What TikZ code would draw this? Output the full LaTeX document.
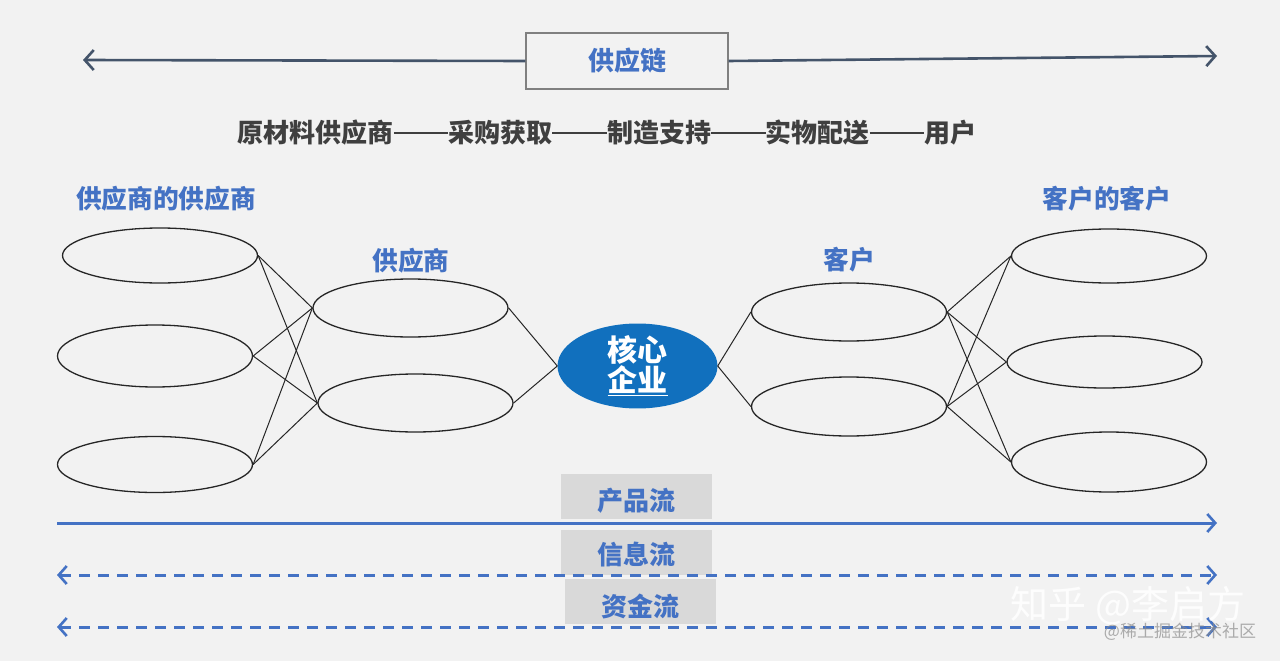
\documentclass[tikz,border=0pt]{standalone}
\usepackage{fontspec}
\setmainfont{Noto Sans CJK SC}
\usetikzlibrary{arrows.meta,shapes.geometric}
\definecolor{bg}{HTML}{F2F2F2}
\definecolor{blu}{HTML}{4472C4}
\definecolor{core}{HTML}{1170BE}
\definecolor{slate}{HTML}{44546A}
\definecolor{txt}{HTML}{3F3F3F}
\definecolor{boxg}{HTML}{D9D9D9}
\newcommand\mydash{\rule[0.33em]{2.1em}{0.085em}}
\tikzset{
  flowtip/.tip={Straight Barb[length=8pt,width=18pt,line width=2.6pt]},
  chaintip/.tip={Straight Barb[length=9pt,width=20pt,line width=2.6pt]}
}
\begin{document}
\begin{tikzpicture}[x=1pt,y=-1pt,
  oval/.style={ellipse,draw=black!85,line width=1.3pt,minimum width=195pt,inner sep=0pt},
  link/.style={draw=black!85,line width=1pt},
  lbl/.style={text=blu,font=\bfseries\fontsize{25.7}{28}\selectfont,inner sep=0pt},
  flowbox/.style={fill=boxg,minimum width=151pt,minimum height=45pt,inner sep=0pt},
  flowtxt/.style={text=blu,font=\bfseries\fontsize{26}{28}\selectfont,inner sep=0pt},
  flow/.style={draw=blu,line width=3pt}
]
\useasboundingbox[fill=bg] (0,0) rectangle (1280,661);

% supply chain arrow
\node[draw=black!50,line width=1.2pt,minimum width=202pt,minimum height=56pt,inner sep=0pt,
  text=blu,font=\bfseries\fontsize{26}{28}\selectfont] (chain) at (627,61) {供应链};
\coordinate (L) at (83,60);
\coordinate (R) at (1217,56);
\draw[slate,line width=2.6pt,-{chaintip}] (chain.west) -- (L);
\draw[slate,line width=2.6pt,-{chaintip}] (chain.east) -- (R);

\node[text=txt,font=\bfseries\fontsize{26}{28}\selectfont,inner sep=0pt] (stages) at (607,133)
  {原材料供应商\mydash 采购获取\mydash 制造支持\mydash 实物配送\mydash 用户};

% labels
\node[lbl] (lss) at (166,199) {供应商的供应商};
\node[lbl] (ls) at (411,261) {供应商};
\node[lbl] (lc) at (849,260) {客户};
\node[lbl] (lcc) at (1107,199) {客户的客户};

% ellipses
\node[oval,minimum height=55pt] (e1) at (160,255.5) {};
\node[oval,minimum height=62pt] (e2) at (155,356) {};
\node[oval,minimum height=56pt] (e3) at (155,464.5) {};
\node[oval,minimum height=58pt] (s1) at (410.5,308) {};
\node[oval,minimum height=58pt] (s2) at (415.5,403) {};
\node[ellipse,fill=core,minimum width=160pt,minimum height=82pt,inner sep=0pt,
  text=white,font=\bfseries\fontsize{30}{33}\selectfont,align=center] (core) at (637.5,366)
  {核心\\[-3pt]\underline{企业}};
\node[oval,minimum height=58pt] (c1) at (849,312) {};
\node[oval,minimum height=59pt] (c2) at (849,406.5) {};
\node[oval,minimum height=54pt] (cc1) at (1109,256) {};
\node[oval,minimum height=52pt] (cc2) at (1104.5,362) {};
\node[oval,minimum height=60pt] (cc3) at (1109,462) {};

% links
\foreach \a in {e1,e2,e3}{\foreach \b in {s1,s2}{\draw[link] (\a.east) -- (\b.west);}}
\foreach \a in {s1,s2}{\draw[link] (\a.east) -- (core.west);}
\foreach \b in {c1,c2}{\draw[link] (core.east) -- (\b.west);}
\foreach \a in {c1,c2}{\foreach \b in {cc1,cc2,cc3}{\draw[link] (\a.east) -- (\b.west);}}

% flow boxes
\node[flowbox] (b1) at (636,496.5) {};
\node[flowbox] (b2) at (636,552.5) {};
\node[flowbox] (b3) at (640,601.5) {};
\node[flowtxt] (t1) at (636,501) {产品流};
\node[flowtxt] (t2) at (636,555) {信息流};
\node[flowtxt] (t3) at (640,606) {资金流};

% flows
\coordinate (p1) at (57,523); \coordinate (p2) at (1217,523);
\coordinate (i1) at (57,575); \coordinate (i2) at (1217,575);
\coordinate (m1) at (57,627); \coordinate (m2) at (1217,627);
\draw[flow,-{flowtip}] (p1) -- (p2);
\draw[flow,dash pattern=on 11pt off 8pt,{flowtip}-{flowtip}] (i1) -- (i2);
\draw[flow,dash pattern=on 11pt off 8pt,{flowtip}-{flowtip}] (m1) -- (m2);

% watermark
\node[text=white,opacity=0.85,font=\fontsize{38}{42}\selectfont,inner sep=0pt] (wm1) at (1128,606) {知乎 @李启方};
\node[text=black!45,opacity=0.7,font=\fontsize{17}{19}\selectfont,inner sep=0pt] (wm2) at (1180,632) {@稀土掘金技术社区};
\end{tikzpicture}
\end{document}
